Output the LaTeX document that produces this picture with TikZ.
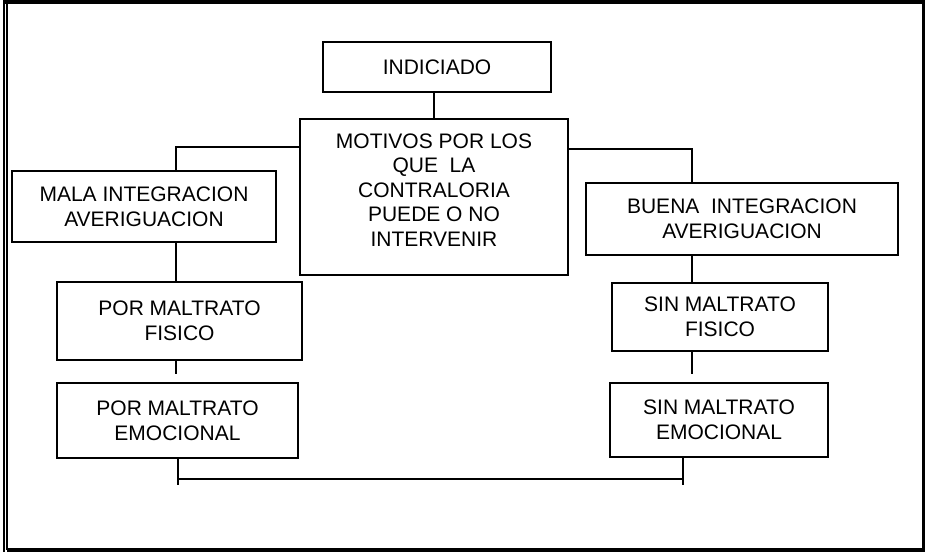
\documentclass[tikz,border=0pt]{standalone}
\usepackage{fontspec}
\setmainfont{Liberation Sans}
\tikzset{
  caja/.style={draw,line width=2pt,inner sep=0pt,align=center,
    font=\fontsize{21}{24.6}\selectfont},
  enlace/.style={line width=2pt},
  marco/.style={line width=3.5pt},
  filete/.style={line width=1.6pt}
}
\begin{document}
\begin{tikzpicture}[x=1pt,y=-1pt]
  \useasboundingbox (0,0) rectangle (925,552);
  % marco de la hoja
  \draw[marco] (3,1.75) -- (923.25,1.75) -- (923.25,549.75) -- (6.5,549.75);
  \draw[filete] (3.8,0) -- (3.8,552);
  \draw[filete] (7.2,1.75) -- (7.2,549.75);
  % cajas
  \node[caja,minimum width=228,minimum height=50] (ind) at (437,67) {INDICIADO};
  \node[caja,minimum width=268,minimum height=156] (mot) at (434,197)
    {MOTIVOS POR LOS\\QUE~~LA\\CONTRALORIA\\PUEDE O NO\\INTERVENIR\\[-10.6pt]\mbox{}};
  \node[caja,minimum width=264,minimum height=71] (mala) at (144,206.5)
    {MALA INTEGRACION\\AVERIGUACION};
  \node[caja,minimum width=312,minimum height=72] (buena) at (742,219)
    {BUENA~~INTEGRACION\\AVERIGUACION};
  \node[caja,minimum width=245,minimum height=78] (porfis) at (179.5,321)
    {POR MALTRATO\\FISICO};
  \node[caja,minimum width=241,minimum height=75] (poremo) at (177.5,420.5)
    {POR MALTRATO\\EMOCIONAL};
  \node[caja,minimum width=216,minimum height=68] (sinfis) at (720,317)
    {SIN MALTRATO\\FISICO};
  \node[caja,minimum width=218,minimum height=74] (sinemo) at (719,420)
    {SIN MALTRATO\\EMOCIONAL};
  % extremos sueltos
  \coordinate (colaL) at (176,374);
  \coordinate (colaR) at (692,374);
  \coordinate (pieL) at (177.5,485);
  \coordinate (pieR) at (683,485);
  \coordinate (baseL) at (177.5,479);
  \coordinate (baseR) at (683,479);
  % enlaces
  \draw[enlace] (ind.south -| mot.north) -- (mot.north);
  \draw[enlace] ([yshift=50pt]mot.west) -| ([xshift=32pt]mala.north);
  \draw[enlace] ([yshift=48pt]mot.east) -| ([xshift=-50pt]buena.north);
  \draw[enlace] ([xshift=32pt]mala.south) -- ([xshift=-3.5pt]porfis.north);
  \draw[enlace] ([xshift=-50pt]buena.south) -- ([xshift=-28pt]sinfis.north);
  \draw[enlace] ([xshift=-3.5pt]porfis.south) -- (colaL);
  \draw[enlace] ([xshift=-28pt]sinfis.south) -- (colaR);
  \draw[enlace] (poremo.south) -- (pieL);
  \draw[enlace] ([xshift=-36pt]sinemo.south) -- (pieR);
  \draw[enlace] (baseL) -- (baseR);
\end{tikzpicture}
\end{document}
